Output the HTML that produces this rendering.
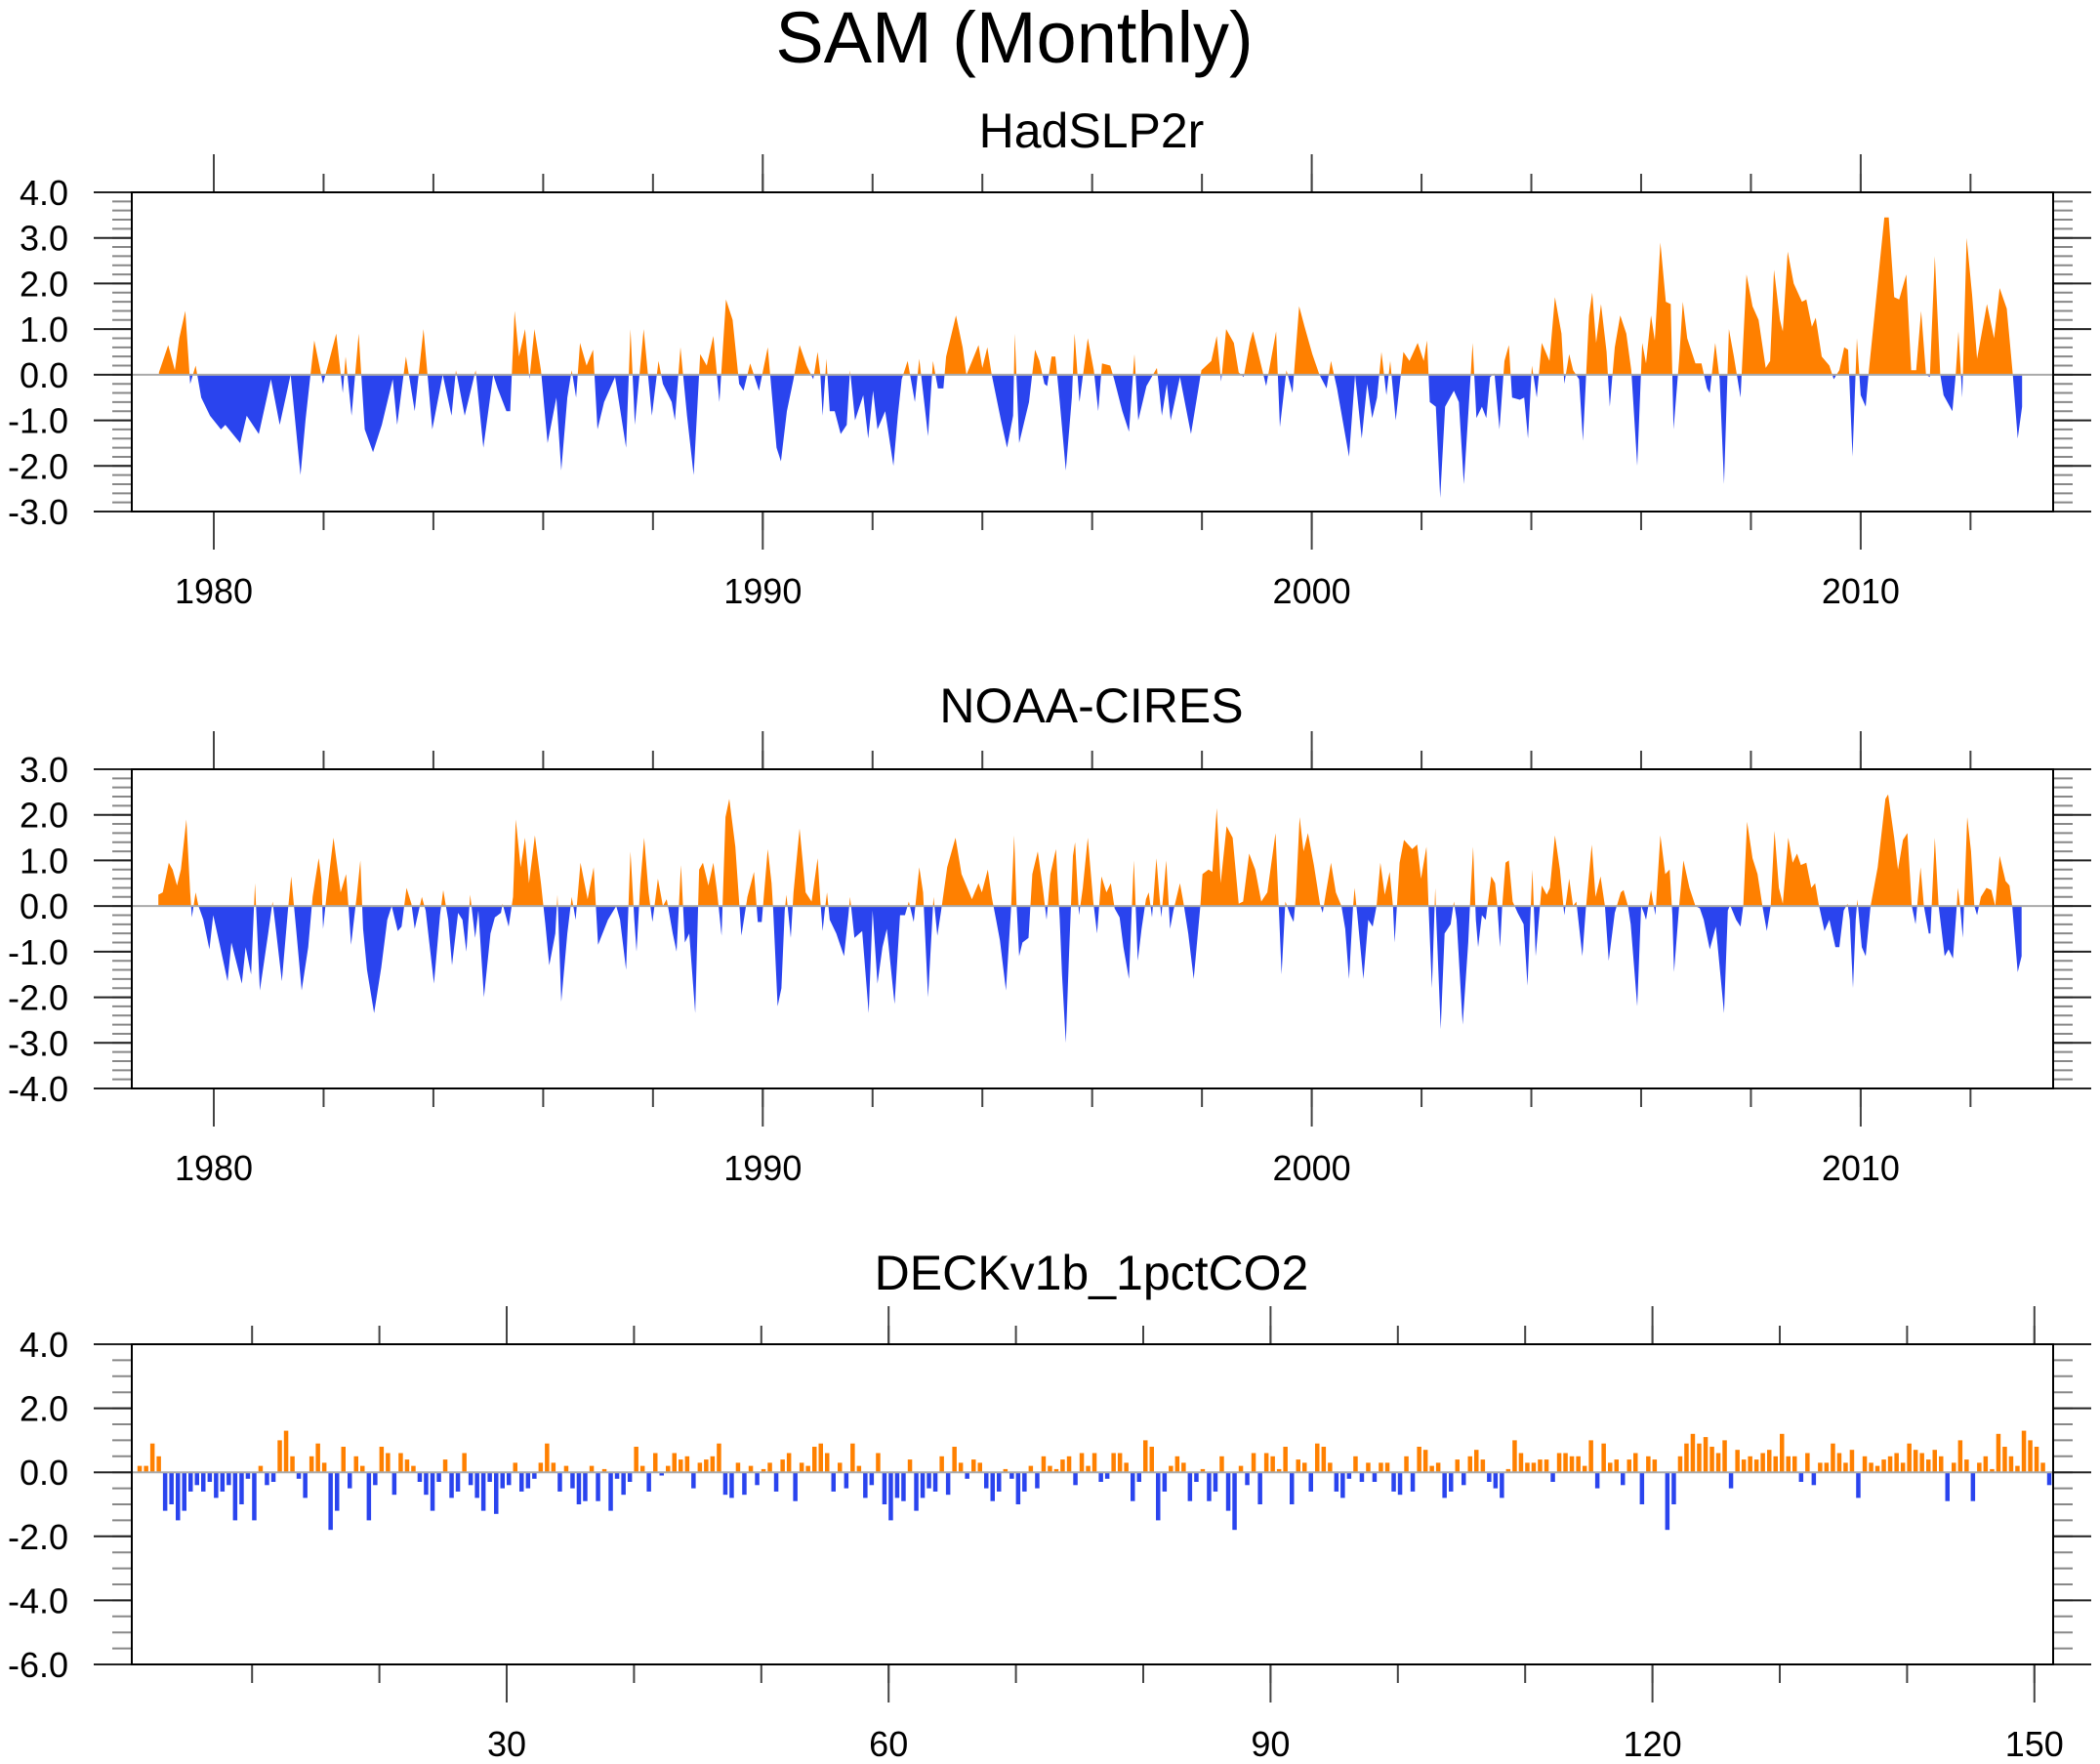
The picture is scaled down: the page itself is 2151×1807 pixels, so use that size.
<!DOCTYPE html>
<html><head><meta charset="utf-8">
<style>
html,body{margin:0;padding:0;background:#fff;}
svg{display:block;}
text{font-family:"Liberation Sans",sans-serif;fill:#000;}
</style></head>
<body>
<svg id="chart" width="2151" height="1807" viewBox="0 0 2151 1807" xmlns="http://www.w3.org/2000/svg">
<text x="1039" y="64" font-size="74" text-anchor="middle">SAM (Monthly)</text>
<text x="1118" y="151" font-size="50" text-anchor="middle">HadSLP2r</text>
<text x="1118" y="740" font-size="50" text-anchor="middle">NOAA-CIRES</text>
<text x="1118" y="1321" font-size="50" text-anchor="middle">DECKv1b_1pctCO2</text>
</svg>
<script>
const hadT=[1979.00,1979.17,1979.29,1979.37,1979.48,1979.57,1979.67,1979.77,1979.93,1980.13,1980.21,1980.48,1980.60,1980.82,1981.04,1981.20,1981.40,1981.58,1981.67,1981.83,1981.99,1982.23,1982.35,1982.40,1982.51,1982.64,1982.75,1982.90,1983.06,1983.26,1983.34,1983.50,1983.66,1983.82,1983.98,1984.17,1984.33,1984.41,1984.57,1984.77,1984.91,1985.09,1985.17,1985.33,1985.40,1985.48,1985.56,1985.67,1985.75,1985.84,1985.96,1986.08,1986.24,1986.33,1986.44,1986.52,1986.60,1986.67,1986.79,1986.91,1986.99,1987.11,1987.31,1987.51,1987.59,1987.67,1987.83,1987.98,1988.10,1988.18,1988.34,1988.40,1988.50,1988.62,1988.74,1988.86,1988.98,1989.10,1989.21,1989.33,1989.45,1989.57,1989.65,1989.77,1989.93,1990.09,1990.25,1990.33,1990.44,1990.56,1990.67,1990.80,1990.92,
1991.00,1991.05,1991.09,1991.16,1991.22,1991.31,1991.42,1991.53,1991.59,1991.68,1991.83,1991.92,1992.01,1992.09,1992.23,1992.38,1992.46,1992.53,1992.64,1992.77,1992.85,1993.01,1993.10,1993.19,1993.29,1993.34,1993.52,1993.64,1993.71,1993.93,1994.00,1994.09,1994.17,1994.34,1994.45,1994.56,1994.59,1994.67,1994.85,1994.96,1995.04,1995.13,1995.18,1995.26,1995.33,1995.41,1995.52,1995.63,1995.68,1995.77,1995.92,1996.03,1996.11,1996.18,1996.33,1996.40,1996.55,1996.67,1996.77,1996.84,1996.99,1997.18,1997.27,1997.36,1997.43,1997.60,1997.80,1997.99,1998.17,1998.27,1998.35,1998.44,1998.58,1998.67,1998.76,1998.87,1998.93,1999.06,1999.17,1999.35,1999.42,1999.54,1999.65,1999.77,1999.87,2000.01,2000.14,2000.27,2000.35,2000.46,2000.68,2000.79,2000.91,2001.01,2001.10,2001.19,2001.27,2001.36,2001.43,2001.53,2001.67,2001.78,2001.93,2002.04,2002.10,2002.15,2002.26,
2002.34,2002.43,2002.59,2002.68,2002.77,2002.86,2002.93,2003.00,2003.10,2003.18,2003.25,2003.33,2003.42,2003.51,2003.59,2003.65,2003.79,2003.87,2003.94,2004.01,2004.10,2004.19,2004.33,2004.43,2004.55,2004.60,2004.69,2004.76,2004.87,2004.94,2005.05,2005.11,2005.18,2005.27,2005.37,2005.43,2005.52,2005.62,2005.73,2005.82,2005.93,2006.02,2006.09,2006.18,2006.25,2006.35,2006.45,2006.54,2006.59,2006.69,2006.76,2006.84,2006.99,2007.10,2007.20,2007.25,2007.35,2007.43,2007.51,2007.60,2007.69,2007.81,2007.92,2008.03,2008.14,2008.27,2008.35,2008.42,2008.53,2008.58,2008.67,2008.78,2008.93,2009.01,2009.11,2009.18,2009.29,2009.43,2009.51,2009.61,2009.70,2009.77,2009.85,2009.93,2010.00,2010.09,2010.15,2010.25,2010.43,2010.51,2010.61,2010.70,2010.83,2010.92,2011.01,2011.10,2011.19,2011.26,2011.35,2011.45,2011.51,2011.67,2011.73,2011.78,2011.85,2011.93,2012.03,2012.12,2012.30,2012.43,2012.53,2012.66,2012.77,2012.86,2012.94];
const hadV=[0.05,0.65,0.1,0.8,1.4,-0.2,0.2,-0.5,-0.9,-1.2,-1.1,-1.5,-0.9,-1.3,-0.1,-1.1,0,-2.2,-1.0,0.75,-0.2,0.9,-0.4,0.4,-0.9,0.9,-1.2,-1.7,-1.1,-0.1,-1.1,0.4,-0.8,1.0,-1.2,0,-0.9,0.1,-0.9,0.1,-1.6,0,-0.3,-0.8,-0.8,1.4,0.4,1.0,-0.1,1.0,0.1,-1.5,-0.5,-2.1,-0.5,0.1,-0.5,0.7,0.2,0.55,-1.2,-0.6,-0.05,-1.6,1.0,-1.1,1.0,-0.9,0.3,-0.2,-0.6,-1.0,0.6,-0.9,-2.2,0.45,0.2,0.85,-0.6,1.65,1.2,-0.2,-0.35,0.25,-0.35,0.6,-1.6,-1.9,-0.8,-0.1,0.65,0.2,-0.1,
0.5,0,-0.9,0.35,-0.8,-0.8,-1.3,-1.1,0.1,-1.0,-0.45,-1.4,-0.35,-1.2,-0.8,-2.0,-0.9,-0.1,0.3,-0.6,0.35,-1.35,0.3,-0.3,-0.3,0.4,1.3,0.6,0,0.65,0.15,0.6,0,-1.0,-1.6,-0.9,0.9,-1.5,-0.6,0.55,0.3,-0.2,-0.25,0.4,0.4,-0.6,-2.1,-0.5,0.9,-0.6,0.8,0.1,-0.8,0.25,0.2,-0.1,-0.8,-1.25,0.45,-1.0,-0.25,0.15,-0.9,-0.2,-1.0,-0.05,-1.3,0.1,0.3,0.85,-0.15,1.0,0.7,0.05,-0.05,0.7,0.95,0.3,-0.25,0.95,-1.15,0.1,-0.4,1.5,1.05,0.45,0,-0.3,0.3,-0.3,-1.8,0,-1.4,-0.2,-0.95,-0.5,0.5,-0.45,0.3,-1.0,0.5,0.3,0.7,0.3,0.75,-0.6,-0.7,
-2.7,-0.7,-0.35,-0.6,-2.4,-0.7,0.7,-0.95,-0.7,-0.95,-0.05,0.03,-1.2,0.3,0.65,-0.5,-0.55,-0.5,-1.4,0.2,-0.5,0.7,0.3,1.7,0.9,-0.2,0.45,0.1,-0.1,-1.45,1.3,1.8,0.7,1.55,0.5,-0.7,0.6,1.3,0.9,0.1,-2.0,0.7,0.25,1.3,0.75,2.9,1.6,1.55,-1.2,0.3,1.6,0.8,0.25,0.25,-0.3,-0.4,0.7,-0.1,-2.4,1.0,0.4,-0.5,2.2,1.5,1.2,0.15,0.3,2.3,1.2,0.95,2.7,2.0,1.6,1.65,1.05,1.25,0.4,0.2,-0.1,0.1,0.6,0.55,-1.8,0.8,-0.45,-0.7,0.1,1.3,3.45,3.45,1.7,1.65,2.2,0.1,0.1,1.4,0,-0.05,2.6,0,-0.45,-0.8,0,0.95,-0.5,3.0,1.75,0.35,1.55,0.8,1.9,1.45,0,-1.4,-0.7];

const noaaT=[1978.99,1979.07,1979.18,1979.25,1979.33,1979.40,1979.50,1979.57,1979.60,1979.67,1979.72,1979.81,1979.92,1979.99,1980.10,1980.25,1980.32,1980.51,1980.58,1980.68,1980.75,1980.84,1980.99,1981.07,1981.13,1981.24,1981.35,1981.41,1981.50,1981.60,1981.72,1981.80,1981.91,1981.96,1981.99,1982.05,1982.18,1982.31,1982.41,1982.46,1982.50,1982.61,1982.67,1982.72,1982.79,1982.92,1983.05,1983.16,1983.24,1983.35,1983.42,1983.51,1983.60,1983.66,1983.79,1983.86,1984.01,1984.12,1984.18,1984.27,1984.34,1984.45,1984.53,1984.60,1984.67,1984.76,1984.82,1984.92,1985.04,1985.12,1985.23,1985.26,1985.37,1985.45,1985.50,1985.59,1985.67,1985.74,1985.85,1985.96,1986.04,1986.11,1986.22,1986.26,1986.33,1986.44,1986.52,1986.59,1986.68,1986.81,1986.92,1987.00,1987.18,1987.33,1987.40,1987.51,1987.59,1987.66,1987.70,1987.77,1987.84,1987.92,1987.99,1988.09,1988.18,1988.25,1988.36,1988.43,1988.51,1988.58,1988.66,1988.77,1988.84,1988.91,1989.01,1989.10,1989.17,1989.25,1989.32,1989.39,1989.50,1989.58,1989.61,1989.72,1989.84,1989.91,1989.98,1990.09,
1990.16,1990.19,1990.27,1990.34,1990.40,1990.43,1990.46,1990.51,1990.56,1990.67,1990.78,1990.89,1991.00,1991.05,1991.09,1991.13,1991.17,1991.22,1991.34,1991.48,1991.56,1991.59,1991.67,1991.81,1991.93,1992.00,1992.09,1992.18,1992.26,1992.40,1992.50,1992.59,1992.66,1992.75,1992.85,1992.92,1993.01,1993.11,1993.18,1993.25,1993.36,1993.51,1993.62,1993.81,1993.93,1993.99,1994.10,1994.17,1994.25,1994.32,1994.43,1994.52,1994.58,1994.62,1994.67,1994.73,1994.84,1994.91,1995.01,1995.10,1995.17,1995.24,1995.34,1995.41,1995.45,1995.52,1995.58,1995.65,1995.69,1995.76,1995.83,1995.92,1996.02,1996.09,1996.17,1996.26,1996.34,1996.41,1996.50,1996.57,1996.67,1996.72,1996.76,1996.83,1996.90,1996.98,1997.03,1997.09,1997.17,1997.22,1997.26,1997.35,1997.42,1997.48,1997.60,1997.66,1997.75,1997.85,1997.97,1998.01,1998.12,1998.19,1998.27,1998.34,1998.45,1998.56,1998.67,1998.75,1998.86,1998.97,1999.08,1999.19,1999.34,1999.41,1999.45,1999.52,1999.61,1999.67,1999.71,1999.78,1999.85,1999.93,2000.04,2000.15,2000.20,2000.26,2000.35,2000.44,2000.54,2000.61,2000.68,2000.75,2000.78,2000.83,2000.94,2001.03,2001.11,2001.18,2001.25,2001.33,2001.42,2001.48,2001.51,
2001.60,2001.68,2001.83,2001.92,2001.99,2002.09,2002.13,2002.19,2002.25,2002.27,2002.35,2002.42,2002.53,2002.59,2002.64,2002.75,2002.85,2002.89,2002.94,2002.99,2003.03,2003.10,2003.17,2003.27,2003.34,2003.38,2003.43,2003.47,2003.53,2003.59,2003.66,2003.75,2003.86,2003.93,2003.99,2004.02,2004.08,2004.19,2004.28,2004.34,2004.43,2004.52,2004.60,2004.69,2004.76,2004.82,2004.93,2004.99,2005.10,2005.17,2005.26,2005.34,2005.41,2005.52,2005.63,2005.68,2005.76,2005.81,2005.93,2006.00,2006.05,2006.09,2006.18,2006.26,2006.29,2006.35,2006.44,2006.52,2006.57,2006.60,2006.70,2006.77,2006.88,2006.99,2007.07,2007.14,2007.25,2007.36,2007.51,2007.58,2007.62,2007.73,2007.81,2007.86,2007.93,2008.03,2008.12,2008.21,2008.29,2008.36,2008.43,2008.51,2008.58,2008.68,2008.76,2008.84,2008.91,2009.01,2009.10,2009.17,2009.24,2009.34,2009.43,2009.54,2009.61,2009.69,2009.76,2009.80,2009.86,2009.91,2009.94,2010.02,2010.09,2010.18,2010.31,2010.45,2010.50,2010.61,2010.68,2010.77,2010.85,2010.93,2011.00,2011.09,2011.15,2011.24,2011.27,2011.35,2011.42,2011.53,2011.60,2011.68,2011.75,2011.77,2011.81,2011.86,2011.94,2012.01,2012.07,2012.12,2012.19,2012.29,2012.38,2012.45,2012.53,2012.64,2012.71,2012.76,2012.86,2012.93];
const noaaV=[0.25,0.3,0.95,0.8,0.45,0.8,1.9,0.3,-0.25,0.3,0,-0.3,-0.95,-0.2,-0.8,-1.65,-0.8,-1.7,-0.9,-1.5,0.5,-1.85,-0.6,0.1,-0.5,-1.65,-0.1,0.65,-0.5,-1.85,-0.9,0.2,1.05,0.6,-0.5,0.2,1.5,0.3,0.7,-0.1,-0.85,0.3,1.0,-0.5,-1.4,-2.35,-1.35,-0.3,0,-0.55,-0.45,0.4,0.05,-0.5,0.2,-0.1,-1.7,-0.2,0.35,-0.3,-1.3,-0.15,-0.3,-1.0,0.25,-0.7,-0.1,-2.0,-0.6,-0.25,-0.15,0.05,-0.45,0.2,1.9,0.85,1.5,0.5,1.55,0.5,-0.4,-1.3,-0.6,0.25,-2.1,-0.6,0.2,-0.3,0.95,0.15,0.85,-0.85,-0.3,0,-0.3,-1.4,1.2,-0.3,-1.0,0.5,1.5,0.3,-0.35,0.6,0,0.15,-0.6,-1.0,0.9,-0.8,-0.6,-2.35,0.8,0.95,0.45,0.95,0.3,-0.65,1.95,2.35,1.3,-0.1,-0.65,0.2,0.75,-0.35,-0.35,1.25,
0.5,-0.1,-2.2,-1.8,-0.1,0.25,-0.1,-0.7,0.3,1.7,0.3,0.1,1.05,0.1,-0.55,-0.1,0.3,-0.3,-0.6,-1.1,-0.2,0.2,-0.7,-0.55,-2.35,-0.1,-1.7,-0.9,-0.5,-2.15,-0.2,-0.2,0.1,-0.35,0.85,0.3,-2.0,0.2,-0.65,-0.1,0.85,1.5,0.7,0.15,0.5,0.3,0.8,0.2,-0.3,-0.75,-1.85,-0.1,1.55,0.1,-1.1,-0.8,-0.7,0.7,1.2,0.4,-0.3,0.7,1.25,-0.3,-1.5,-3.0,-1.0,1.1,1.4,-0.2,0.4,1.5,0.1,-0.6,0.65,0.3,0.5,-0.05,-0.25,-0.9,-1.6,-0.1,1.0,-1.2,-0.5,0.15,0.3,-0.25,1.05,0.3,-0.25,1.0,-0.5,-0.1,0.5,0.1,-0.6,-1.6,0,0.7,0.8,0.75,2.15,0.5,1.75,1.5,0.05,0.1,1.15,0.8,0.1,0.3,1.6,-0.3,-1.5,0.1,-0.2,-0.35,0.2,1.95,1.2,1.6,0.9,0.05,-0.15,0.3,0.95,0.3,0.0,-0.5,-1.6,-0.05,0.4,-0.2,-1.6,-0.3,-0.45,0,0.95,0.25,0.75,0,-0.8,
0.95,1.45,1.25,1.35,0.6,1.3,-0.1,-1.8,0.4,-0.3,-2.7,-0.6,-0.4,0.1,-0.3,-2.6,-0.8,0.2,1.3,-0.3,-0.9,-0.2,-0.3,0.65,0.5,0,-0.9,0,0.95,1.0,0.1,-0.15,-0.4,-1.75,0,0.8,-1.1,0.45,0.25,0.4,1.55,0.8,-0.2,0.6,0,0.1,-1.1,-0.1,1.35,0.2,0.65,0,-1.2,-0.15,0.3,0.35,0,-0.4,-2.2,0,-0.15,-0.3,0.35,-0.2,0.4,1.55,0.7,0.8,-0.2,-1.45,0.1,1.0,0.4,0,-0.05,-0.3,-0.95,-0.45,-2.35,-0.1,0.02,-0.3,-0.45,0,1.85,1.05,0.7,0,-0.55,0,1.65,0.4,0.05,1.5,0.95,1.15,0.9,0.95,0.4,0.5,0,-0.55,-0.3,-0.9,-0.9,-0.1,0.05,-0.3,-1.8,-0.3,0.15,-0.9,-1.1,0,0.85,2.35,2.45,1.5,0.8,1.45,1.6,0,-0.4,0.85,0,-0.6,-0.6,1.5,0,-1.1,-0.95,-1.15,0,0.4,0,-0.7,1.95,1.2,0,-0.2,0.2,0.4,0.35,0,1.1,0.55,0.45,0,-1.45,-1.1];

const deckStart=1.0;
const deckStep=0.5;
const deckV=[0.2,0.2,0.9,0.5,-1.2,-1.0,-1.5,-1.2,-0.6,-0.4,-0.6,-0.3,-0.8,-0.6,-0.4,-1.5,-1.0,-0.2,-1.5,0.2,-0.4,-0.3,1.0,1.3,0.5,-0.2,-0.8,0.5,0.9,0.3,-1.8,-1.2,0.8,-0.5,0.5,0.2,-1.5,-0.4,0.8,0.6,-0.7,0.6,0.4,0.2,-0.3,-0.7,-1.2,-0.3,0.4,-0.8,-0.6,0.6,-0.4,-0.8,-1.2,-0.3,-1.3,-0.5,-0.4,0.3,-0.6,-0.5,-0.2,0.3,0.9,0.3,-0.6,0.2,-0.5,-1.0,-0.9,0.2,-0.9,0.1,-1.2,
-0.2,-0.7,-0.3,0.8,0.2,-0.6,0.6,-0.1,0.2,0.6,0.4,0.5,-0.5,0.3,0.4,0.5,0.9,-0.7,-0.8,0.3,-0.7,0.2,-0.4,0.1,0.3,-0.6,0.4,0.6,-0.9,0.3,0.2,0.8,0.9,0.6,-0.6,0.3,-0.5,0.9,0.2,-0.8,-0.4,0.6,-1.0,-1.5,-0.8,-0.9,0.4,-1.2,-0.8,-0.5,-0.6,0.5,-0.7,0.8,0.3,-0.2,0.4,0.3,-0.5,-0.9,-0.6,0.1,-0.2,-1.0,-0.6,0.2,-0.5,0.5,0.2,0.1,0.4,0.5,-0.4,0.6,0.2,0.6,
-0.3,-0.2,0.6,0.6,0.3,-0.9,-0.3,1.0,0.8,-1.5,-0.6,0.2,0.5,0.3,-0.9,-0.3,0.1,-0.9,-0.6,0.5,-1.2,-1.8,0.2,-0.4,0.6,-1.0,0.6,0.5,0.1,0.8,-1.0,0.4,0.3,-0.6,0.9,0.8,0.3,-0.6,-0.8,-0.2,0.5,-0.3,0.3,-0.3,0.3,0.3,-0.6,-0.7,0.5,-0.6,0.8,0.7,0.2,0.3,-0.8,-0.6,0.4,-0.4,0.5,0.7,0.4,-0.3,-0.5,-0.8,0.1,1.0,0.6,0.3,0.3,0.4,0.4,-0.3,0.6,0.6,0.5,
0.5,0.2,1.0,-0.5,0.9,0.3,0.4,-0.4,0.4,0.6,-1.0,0.5,0.4,0.0,-1.8,-1.0,0.5,0.9,1.2,0.9,1.1,0.8,0.6,1.0,-0.5,0.7,0.4,0.5,0.4,0.6,0.7,0.5,1.2,0.5,0.5,-0.3,0.6,-0.4,0.3,0.3,0.9,0.6,0.3,0.7,-0.8,0.5,0.3,0.2,0.4,0.5,0.6,0.3,0.9,0.7,0.6,0.4,0.7,0.5,-0.9,0.3,1.0,0.4,-0.9,0.3,0.5,0.1,1.2,0.8,0.5,0.2,1.3,1.0,0.8,0.3,-0.4];

const yrMajor=[1980,1990,2000,2010];
const yrMinor=[1980,1982,1984,1986,1988,1990,1992,1994,1996,1998,2000,2002,2004,2006,2008,2010,2012];
const deckMajor=[30,60,90,120,150];
const deckMinor=[10,20,30,40,50,60,70,80,90,100,110,120,130,140,150];
const p12YMaj1=[4,3,2,1,0,-1,-2,-3];
const p12YMaj2=[3,2,1,0,-1,-2,-3,-4];
const p3YMaj=[4,2,0,-2,-4,-6];

const NS='http://www.w3.org/2000/svg';
const svg=document.getElementById('chart');
const L=135,R=2103,ORANGE='#ff8000',BLUE='#2a44ee';
function mk(tag,attrs,parent){const e=document.createElementNS(NS,tag);for(const k in attrs)e.setAttribute(k,attrs[k]);(parent||svg).appendChild(e);return e;}

function panel(cfg){
  const g=mk('g',{});
  
  
  const yS=(cfg.bottom-cfg.top)/(cfg.ymax-cfg.ymin);
  const y=v=>cfg.top+(cfg.ymax-v)*yS;
  const x=cfg.x;
  const zero=y(0);
  const id=cfg.name;
  const defs=mk('defs',{},g);
  const cu=mk('clipPath',{id:id+'-up'},defs);mk('rect',{x:L,y:cfg.top,width:R-L,height:zero-cfg.top},cu);
  const cd=mk('clipPath',{id:id+'-dn'},defs);mk('rect',{x:L,y:zero,width:R-L,height:cfg.bottom-zero},cd);
  if(cfg.times){
    let d='M'+x(cfg.times[0]).toFixed(1)+','+zero.toFixed(1);
    const n=Math.min(cfg.times.length,cfg.vals.length);
    for(let i=0;i<n;i++)d+=' L'+x(cfg.times[i]).toFixed(1)+','+y(cfg.vals[i]).toFixed(1);
    d+=' L'+x(cfg.times[n-1]).toFixed(1)+','+zero.toFixed(1)+' Z';
    const pu=mk('path',{d:d,fill:ORANGE,'clip-path':'url(#'+id+'-up)'},g);
    
    
    const pd=mk('path',{d:d,fill:BLUE,'clip-path':'url(#'+id+'-dn)'},g);
    
    
  } else {
    const bg=mk('g',{},g);
    
    
    cfg.vals.forEach((v,i)=>{
      const t=cfg.start+i*cfg.step;
      const x0=x(t),x1=x(t+cfg.step)-2;
      const r=mk('rect',{x:x0.toFixed(1),y:Math.min(y(v),zero).toFixed(1),width:Math.max(1,x1-x0).toFixed(1),height:Math.abs(y(v)-zero).toFixed(1),fill:v>=0?ORANGE:BLUE},bg);
      
      
    });
  }
  const zl=mk('line',{x1:L,x2:R,y1:zero,y2:zero,stroke:'#aaa','stroke-width':2},g);
  
  
  const yt=mk('g',{stroke:'#222','stroke-width':2},g);
  
  
  for(let v=cfg.ymin;v<=cfg.ymax+1e-6;v+=cfg.yminor){
    const yy=y(v);
    mk('line',{x1:115,x2:L,y1:yy,y2:yy,stroke:'#888'},yt);
    mk('line',{x1:R,x2:2123,y1:yy,y2:yy,stroke:'#888'},yt);
  }
  cfg.ymaj.forEach(v=>{
    const yy=y(v);
    mk('line',{x1:96,x2:L,y1:yy,y2:yy},yt);
    mk('line',{x1:R,x2:2142,y1:yy,y2:yy},yt);
    const tx=mk('text',{x:70,y:(yy+13).toFixed(1),'font-size':36,'text-anchor':'end'},g);
    tx.textContent=v.toFixed(1);
    
    
  });
  const xt=mk('g',{stroke:'#444','stroke-width':2},g);
  
  
  cfg.xminor.forEach(t=>{const xx=x(t);
    mk('line',{x1:xx,x2:xx,y1:cfg.top-19,y2:cfg.top},xt);
    mk('line',{x1:xx,x2:xx,y1:cfg.bottom,y2:cfg.bottom+19},xt);});
  cfg.xmajor.forEach(t=>{const xx=x(t);
    mk('line',{x1:xx,x2:xx,y1:cfg.top-39,y2:cfg.top},xt);
    mk('line',{x1:xx,x2:xx,y1:cfg.bottom,y2:cfg.bottom+39},xt);
    const tx=mk('text',{x:xx,y:cfg.bottom+94,'font-size':36,'text-anchor':'middle'},g);
    tx.textContent=String(t);
    
    });
  const fr=mk('rect',{x:L,y:cfg.top,width:R-L,height:cfg.bottom-cfg.top,fill:'none',stroke:'#000','stroke-width':2},g);
  
  
}
const xYear=t=>219+(t-1980)*56.23;
const xDeck=t=>519+(t-30)*13.04;
panel({name:'hadslp2r',top:197,bottom:524,ymin:-3,ymax:4,yminor:0.2,ymaj:p12YMaj1,x:xYear,times:hadT,vals:hadV,xmajor:yrMajor,xminor:yrMinor});
panel({name:'noaa-cires',top:788,bottom:1115,ymin:-4,ymax:3,yminor:0.2,ymaj:p12YMaj2,x:xYear,times:noaaT,vals:noaaV,xmajor:yrMajor,xminor:yrMinor});
panel({name:'deck',top:1377,bottom:1705,ymin:-6,ymax:4,yminor:0.5,ymaj:p3YMaj,x:xDeck,vals:deckV,start:deckStart,step:deckStep,xmajor:deckMajor,xminor:deckMinor});
</script>
</body></html>
